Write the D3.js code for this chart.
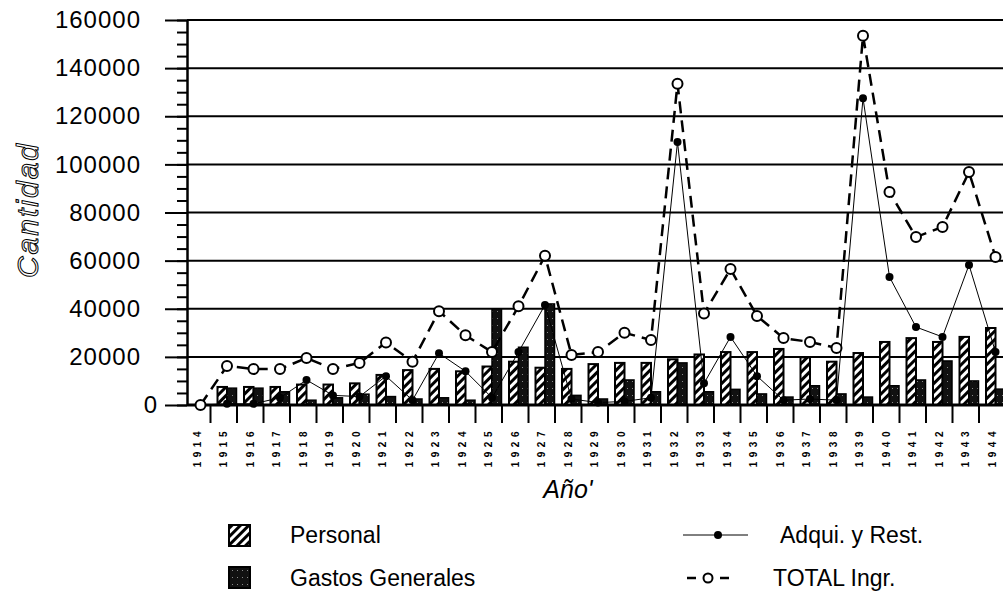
<!DOCTYPE html>
<html>
<head>
<meta charset="utf-8">
<script src="https://cdn.jsdelivr.net/npm/d3@7"></script>
<style>
body { margin: 0; background: #fff; }
svg { display: block; font-family: 'Liberation Sans', Arial, sans-serif; }
</style>
</head>
<body>
<svg></svg>
<script>
// Years on the x axis
const years = ['1914', '1915', '1916', '1917', '1918', '1919', '1920', '1921', '1922', '1923',
    '1924', '1925', '1926', '1927', '1928', '1929', '1930', '1931', '1932', '1933',
    '1934', '1935', '1936', '1937', '1938', '1939', '1940', '1941', '1942', '1943', '1944']

// Bars
const personal = [0, 7500, 7500, 7500, 8500, 8500, 9000, 12500, 14500, 15000,
    14000, 16000, 18000, 15500, 15000, 17000, 17500, 17500, 19000, 21000,
    22000, 22000, 23300, 19800, 18000, 21600, 26200, 27800, 26200, 28300, 32000]
const gastos = [0, 7000, 7000, 5500, 2000, 3000, 4500, 3500, 2500, 3000,
    2000, 40000, 24000, 42000, 4000, 2500, 10400, 5500, 17500, 5500,
    6500, 4600, 3300, 8000, 4600, 3300, 8000, 10400, 18300, 10000, 6600]

// Lines
const adqui = [0, 500, 500, 3000, 10400, 4000, 3500, 12000, 2000, 21500,
    14000, 3000, 22000, 41600, 2500, 1000, 1500, 3000, 109300, 9000,
    28300, 12000, 2000, 2500, 2000, 127500, 53200, 32400, 28300, 58200, 22000]
const total = [0, 16200, 15000, 15000, 19500, 15000, 17500, 26000, 18000, 39000,
    29000, 22000, 41000, 62000, 20800, 22000, 30000, 27000, 133500, 38000,
    56500, 37000, 27800, 26200, 23700, 153500, 88500, 69800, 74000, 96800, 61500]

const yTicks = [0, 20000, 40000, 60000, 80000, 100000, 120000, 140000, 160000]

// Canvas setup
let svg = d3.select('svg')
let width = 1003
let height = 598
let axisX = 187
svg.attr('width', width).attr('height', height)

// Fill patterns
let defs = svg.append('defs')
let hatch = defs.append('pattern')
    .attr('id', 'hatch')
    .attr('patternUnits', 'userSpaceOnUse')
    .attr('width', 6)
    .attr('height', 6)
    .attr('patternTransform', 'rotate(45)')
hatch.append('rect').attr('width', 6).attr('height', 6).attr('fill', '#fff')
hatch.append('rect').attr('width', 3).attr('height', 6).attr('fill', '#000')

let dots = defs.append('pattern')
    .attr('id', 'dots')
    .attr('patternUnits', 'userSpaceOnUse')
    .attr('width', 5)
    .attr('height', 7)
dots.append('rect').attr('width', 5).attr('height', 7).attr('fill', '#111')
dots.append('rect').attr('x', 2).attr('y', 3).attr('width', 1).attr('height', 1).attr('fill', '#888')

// Scales
let xScale = d3.scaleBand()
    .domain(years)
    .range([184, 1005.5])
let yScale = d3.scaleLinear()
    .domain([0, 160000])
    .range([405, 20])

// Gridlines
svg.append('g')
    .selectAll('line')
    .data(yTicks.filter(d => d > 0))
    .enter()
    .append('line')
    .attr('x1', axisX)
    .attr('x2', width)
    .attr('y1', d => yScale(d))
    .attr('y2', d => yScale(d))
    .attr('stroke', '#000')
    .attr('stroke-width', 2)

// Y axis, minor ticks
let minor = d3.range(0, 160001, 5000)
svg.append('g')
    .attr('transform', 'translate(' + axisX + ',0)')
    .call(d3.axisLeft(yScale).tickValues(minor).tickSize(10).tickFormat(''))
    .call(g => g.select('.domain').remove())
    .selectAll('line').attr('stroke-width', 2)

// Y axis, major ticks and labels
let yAxis = svg.append('g')
    .attr('transform', 'translate(' + axisX + ',0)')
    .call(d3.axisLeft(yScale).tickValues(yTicks).tickSize(22).tickSizeOuter(0).tickPadding(24).tickFormat(d3.format('d')))
yAxis.select('.domain').attr('stroke-width', 2.5)
yAxis.selectAll('line').attr('stroke-width', 2)
yAxis.selectAll('text')
    .attr('font-size', 24)
    .attr('letter-spacing', 1)
    .attr('font-family', "'Liberation Sans', Arial, sans-serif")
    .attr('x', d => d === 0 ? -29 : -46)

// Bars
let bars = svg.append('g')
bars.selectAll('.personal')
    .data(personal)
    .enter()
    .append('rect')
    .attr('class', 'personal')
    .attr('x', (d, i) => xScale(years[i]) + 7)
    .attr('width', 9.5)
    .attr('y', d => yScale(d))
    .attr('height', d => yScale(0) - yScale(d))
    .attr('fill', 'url(#hatch)')
    .attr('stroke', '#000')
    .attr('stroke-width', 2)
bars.selectAll('.gastos')
    .data(gastos)
    .enter()
    .append('rect')
    .attr('class', 'gastos')
    .attr('x', (d, i) => xScale(years[i]) + 16.5)
    .attr('width', 9.5)
    .attr('y', d => yScale(d))
    .attr('height', d => yScale(0) - yScale(d))
    .attr('fill', 'url(#dots)')
    .attr('stroke', '#000')
    .attr('stroke-width', 1.5)

// X axis
let xAxis = svg.append('g')
    .attr('transform', 'translate(0,405)')
    .call(d3.axisBottom(xScale).tickSize(0).tickSizeOuter(0))
xAxis.select('.domain').remove()
xAxis.selectAll('text')
    .attr('transform', 'rotate(-90)')
    .attr('x', -22)
    .attr('y', 0)
    .attr('dy', '0.36em')
    .attr('font-size', 10)
    .attr('font-weight', 'bold')
    .attr('letter-spacing', 4.5)
    .attr('font-family', "'Liberation Sans', Arial, sans-serif")
    .style('text-anchor', 'end')
svg.append('line')
    .attr('x1', axisX)
    .attr('x2', width)
    .attr('y1', yScale(0))
    .attr('y2', yScale(0))
    .attr('stroke', '#000')
    .attr('stroke-width', 3)
svg.append('g')
    .selectAll('line')
    .data(years.slice(1))
    .enter()
    .append('line')
    .attr('x1', d => xScale(d))
    .attr('x2', d => xScale(d))
    .attr('y1', yScale(0))
    .attr('y2', yScale(0) + 18)
    .attr('stroke', '#000')
    .attr('stroke-width', 2)

// Lines
let px = (d, i) => xScale(years[i]) + 16.5
let line = d3.line().x(px).y(d => yScale(d))

svg.append('path')
    .datum(adqui)
    .attr('d', line)
    .attr('fill', 'none')
    .attr('stroke', '#000')
    .attr('stroke-width', 1)
svg.append('g')
    .selectAll('circle')
    .data(adqui)
    .enter()
    .append('circle')
    .attr('cx', px)
    .attr('cy', d => yScale(d))
    .attr('r', 4)
    .attr('fill', '#000')

svg.append('path')
    .datum(total)
    .attr('d', line)
    .attr('fill', 'none')
    .attr('stroke', '#000')
    .attr('stroke-width', 2.5)
    .attr('stroke-dasharray', '12,7')
svg.append('g')
    .selectAll('circle')
    .data(total)
    .enter()
    .append('circle')
    .attr('cx', px)
    .attr('cy', d => yScale(d))
    .attr('r', 5)
    .attr('fill', '#fff')
    .attr('stroke', '#000')
    .attr('stroke-width', 2)

// Axis titles
svg.append('text')
    .attr('transform', 'translate(38,210) rotate(-90)')
    .attr('text-anchor', 'middle')
    .attr('font-size', 30)
    .attr('font-style', 'italic')
    .attr('letter-spacing', 2)
    .attr('fill', 'none')
    .attr('stroke', '#000')
    .attr('stroke-width', 1)
    .text('Cantidad')
svg.append('text')
    .attr('x', 568)
    .attr('y', 498)
    .attr('text-anchor', 'middle')
    .attr('font-size', 25)
    .attr('font-style', 'italic')
    .text("Año'")

// Legend
let legend = svg.append('g').attr('font-size', 23)
legend.append('rect')
    .attr('x', 229).attr('y', 525).attr('width', 21).attr('height', 21)
    .attr('fill', 'url(#hatch)').attr('stroke', '#000').attr('stroke-width', 2)
legend.append('text').attr('x', 290).attr('y', 543).text('Personal')
legend.append('rect')
    .attr('x', 229).attr('y', 567).attr('width', 21).attr('height', 21)
    .attr('fill', 'url(#dots)').attr('stroke', '#000').attr('stroke-width', 2)
legend.append('text').attr('x', 290).attr('y', 586).text('Gastos Generales')

legend.append('line')
    .attr('x1', 683).attr('x2', 748).attr('y1', 535).attr('y2', 535)
    .attr('stroke', '#000').attr('stroke-width', 1)
legend.append('circle').attr('cx', 718).attr('cy', 535).attr('r', 4).attr('fill', '#000')
legend.append('text').attr('x', 780).attr('y', 543).text('Adqui. y Rest.')

legend.append('line')
    .attr('x1', 687).attr('x2', 740).attr('y1', 578).attr('y2', 578)
    .attr('stroke', '#000').attr('stroke-width', 2.5).attr('stroke-dasharray', '9,24')
legend.append('circle').attr('cx', 708).attr('cy', 578).attr('r', 4.5)
    .attr('fill', '#fff').attr('stroke', '#000').attr('stroke-width', 2)
legend.append('text').attr('x', 773).attr('y', 586).text('TOTAL Ingr.')
</script>
</body>
</html>
